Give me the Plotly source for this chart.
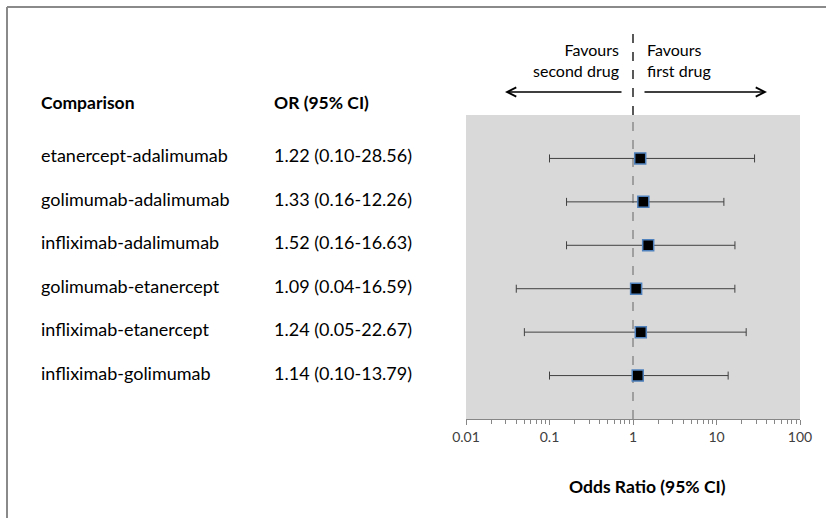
import plotly.graph_objects as go

# ---- data ----
comparisons = [
    "etanercept-adalimumab",
    "golimumab-adalimumab",
    "infliximab-adalimumab",
    "golimumab-etanercept",
    "infliximab-etanercept",
    "infliximab-golimumab",
]
odds_ratio = [1.22, 1.33, 1.52, 1.09, 1.24, 1.14]
ci_lower = [0.10, 0.16, 0.16, 0.04, 0.05, 0.10]
ci_upper = [28.56, 12.26, 16.63, 16.59, 22.67, 13.79]
tick_values = [0.01, 0.1, 1, 10, 100]
tick_labels = ["0.01", "0.1", "1", "10", "100"]
reference_value = 1

W, H = 826, 518
FONT = "Lato, Calibri, Carlito, sans-serif"
ROW_SIZE = 18
HEAD_SIZE = 17.5
FAV_SIZE = 16
TICK_SIZE = 14


def px(x):
    return x / W


def py(y):
    return 1 - y / H


rows = list(range(1, len(comparisons) + 1))
or_text = [f"{o:.2f} ({l:.2f}-{u:.2f})" for o, l, u in zip(odds_ratio, ci_lower, ci_upper)]

fig = go.Figure()
fig.add_trace(go.Scatter(
    x=odds_ratio,
    y=rows,
    mode="markers",
    marker=dict(symbol="square", size=11, color="black",
                line=dict(color="#4f81bd", width=1.5)),
    error_x=dict(
        type="data",
        symmetric=False,
        array=[u - o for u, o in zip(ci_upper, odds_ratio)],
        arrayminus=[o - l for o, l in zip(odds_ratio, ci_lower)],
        color="#404040",
        thickness=1,
        width=4,
    ),
    showlegend=False,
    hoverinfo="skip",
))

plot_top, plot_bottom = 115, 419
plot_left, plot_right = 466, 800

annotations = []
# headers
annotations.append(dict(text="<b>Comparison</b>", xref="paper", yref="paper",
                        x=px(39), y=py(102), xanchor="left", yanchor="middle",
                        showarrow=False, font=dict(size=HEAD_SIZE, color="black", family=FONT)))
annotations.append(dict(text="<b>OR (95% CI)</b>", xref="paper", yref="paper",
                        x=px(272), y=py(102), xanchor="left", yanchor="middle",
                        showarrow=False, font=dict(size=HEAD_SIZE, color="black", family=FONT)))
for r, name, t in zip(rows, comparisons, or_text):
    annotations.append(dict(text=name, xref="paper", yref="y", x=px(39), y=r,
                            xanchor="left", yanchor="middle", yshift=3, showarrow=False,
                            font=dict(size=ROW_SIZE, color="black", family=FONT)))
    annotations.append(dict(text=t, xref="paper", yref="y", x=px(272), y=r,
                            xanchor="left", yanchor="middle", yshift=3, showarrow=False,
                            font=dict(size=ROW_SIZE, color="black", family=FONT)))

# favours labels
annotations.append(dict(text="Favours<br>second drug", xref="paper", yref="paper",
                        x=px(621), y=py(60), xanchor="right", yanchor="middle",
                        align="right", showarrow=False,
                        font=dict(size=FAV_SIZE, color="black", family=FONT)))
annotations.append(dict(text="Favours<br>first drug", xref="paper", yref="paper",
                        x=px(645), y=py(60), xanchor="left", yanchor="middle",
                        align="left", showarrow=False,
                        font=dict(size=FAV_SIZE, color="black", family=FONT)))
# arrows
annotations.append(dict(text="", xref="paper", yref="paper", x=px(505), y=py(92),
                        ax=118, ay=0, axref="pixel", ayref="pixel",
                        showarrow=True, arrowhead=5, arrowsize=1.4, arrowwidth=1.3,
                        arrowcolor="black"))
annotations.append(dict(text="", xref="paper", yref="paper", x=px(767), y=py(92),
                        ax=-124, ay=0, axref="pixel", ayref="pixel",
                        showarrow=True, arrowhead=5, arrowsize=1.4, arrowwidth=1.3,
                        arrowcolor="black"))
# axis title
annotations.append(dict(text="<b>Odds Ratio (95% CI)</b>", xref="paper", yref="paper",
                        x=px(647), y=py(486), xanchor="center", yanchor="middle",
                        showarrow=False, font=dict(size=HEAD_SIZE, color="black", family=FONT)))

shapes = [
    # reference line inside plot
    dict(type="line", xref="x", yref="paper", x0=reference_value, x1=reference_value,
         y0=py(plot_bottom), y1=py(plot_top), line=dict(color="#808080", width=1.3, dash="dash"),
         layer="below"),
    # reference line above plot
    dict(type="line", xref="x", yref="paper", x0=reference_value, x1=reference_value,
         y0=py(plot_top), y1=py(33), line=dict(color="black", width=1.3, dash="dash")),
    # outer frame (left and top)
    dict(type="line", xref="paper", yref="paper", x0=px(7), x1=px(7), y0=0, y1=py(7),
         line=dict(color="#8a8a8a", width=2)),
    dict(type="line", xref="paper", yref="paper", x0=px(7), x1=1, y0=py(7), y1=py(7),
         line=dict(color="#8a8a8a", width=2)),
]

fig.update_layout(
    autosize=True,
    margin=dict(l=0, r=0, t=0, b=0, autoexpand=False),
    paper_bgcolor="white",
    plot_bgcolor="#d9d9d9",
    font=dict(family=FONT, color="#404040"),
    xaxis=dict(
        type="log",
        range=[-2, 2],
        domain=[px(plot_left), px(plot_right)],
        tickvals=tick_values,
        ticktext=tick_labels,
        tickfont=dict(size=TICK_SIZE, color="#404040", family=FONT),
        showgrid=False,
        zeroline=False,
        showline=True,
        linecolor="#868686",
        linewidth=1,
        ticks="outside",
        ticklen=5,
        tickcolor="#868686",
        minor=dict(ticks="outside", ticklen=4, tickcolor="#868686", dtick="D1", showgrid=False),
        fixedrange=True,
        automargin=False,
    ),
    yaxis=dict(
        range=[len(comparisons) + 1, 0],
        domain=[py(plot_bottom), py(plot_top)],
        showgrid=False, zeroline=False, showticklabels=False, ticks="",
        showline=False, fixedrange=True, automargin=False,
    ),
    annotations=annotations,
    shapes=shapes,
)

fig.write_html(
    "out.html",
    config={"displayModeBar": False, "responsive": True},
    default_width="100vw",
    default_height="100vh",
    post_script=(
        "document.body.style.margin='0px'; document.body.style.overflow='hidden';"
        "var gd=document.getElementById('{plot_id}'); Plotly.Plots.resize(gd);"
    ),
)
